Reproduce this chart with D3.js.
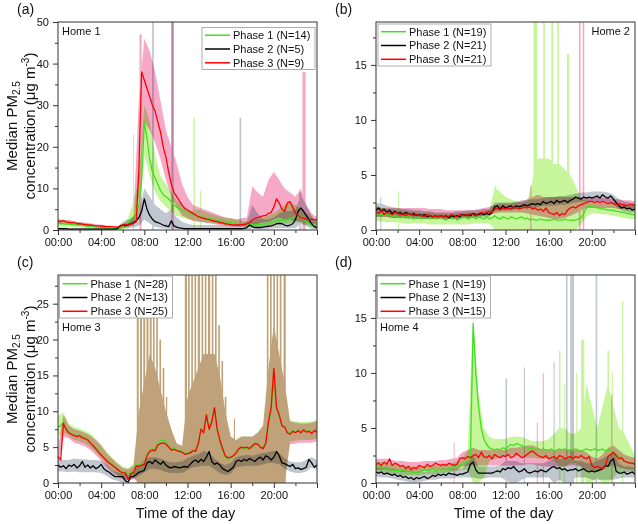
<!DOCTYPE html>
<html><head><meta charset="utf-8">
<script src="https://cdn.jsdelivr.net/npm/d3@7"></script>
<style>body{margin:0;background:#fff}svg text{font-family:"Liberation Sans",Arial,sans-serif}</style>
</head><body><svg id="chart" width="638" height="524"></svg>
<script>
// ---------- DATA ----------
const phases = ["Phase 1","Phase 2","Phase 3"];
const xTickLabels = ["00:00","04:00","08:00","12:00","16:00","20:00"];
const fineHours = d3.range(97).map(i => i / 4);   // 15-min medians
const coarseHours = d3.range(49).map(i => i / 2); // 30-min bands

// Home 1
const nA = [14,5,9];
const aP1 = [1.6,1.5,1.5,1.4,1.4,1.3,1.3,1.2,1.2, 1.1,1.0,0.9,0.9,0.8,0.7,0.7,0.6, 0.6,0.5,0.5,0.4,0.4,0.4,0.4,0.6, 1.0,1.8,2.6,3.2,4.0,6.0,12,26, 22,17,14,12.5,11,9.5,8.5,8, 7.5,6.8,6,5.5,5,4.8,4.5,4.3, 4,3.8,3.5,3.3,3.1,3,2.8,2.7, 2.6,2.5,2.4,2.2,2.1,2,1.9,1.8, 1.7,1.6,1.5,1.4,1.3,1.2,1.2,1.2, 1.2,1.3,1.3,1.4,1.5,1.6,1.8,2, 2.2,2.4,2.5,2.3,2.4,2.8,3,3.2, 3,3.2,2.5,2,1.6,1.2,1,0.9];
const aP2 = [0.3,0.3,0.3,0.3,0.2,0.2,0.2,0.2,0.2, 0.2,0.2,0.2,0.2,0.2,0.2,0.2,0.2, 0.2,0.2,0.2,0.2,0.2,0.3,1.0,1.2, 1.0,1.3,1.5,1.8,2.2,3,4.5,7.5, 5,3.5,2.6,2,1.8,1.5,1.2,1, 0.8,2.2,1,0.7,0.5,0.4,0.3,0.3, 0.3,0.3,0.3,0.3,0.3,0.3,0.3,0.3, 0.3,0.3,0.3,0.3,0.3,0.3,0.3,0.3, 0.3,0.3,0.3,0.3,0.4,0.6,1.2,0.8, 0.6,0.6,0.6,0.7,0.8,0.9,1.0,1.2, 1.5,1.6,1.5,1.2,1,1.2,1.5,2.5, 4.5,5.3,4.5,3.5,2.5,1.5,0.8,0.5];
const aP3 = [2.2,2.0,2.3,1.9,1.8,1.7,1.8,1.5,1.5, 1.4,1.3,1.2,1.2,1.1,1.0,1.0,0.9, 0.9,0.8,0.8,0.8,0.7,0.7,0.8,1.2, 1.3,1.2,1.4,1.6,2.0,15,38,36, 34,32,30,28.5,26,23.5,20,17.5, 14,11,9,8,7,6,5.2,4.8, 4.4,4,3.6,3.2,3,2.8,2.6,2.5, 2.3,2.1,2,1.8,1.7,1.5,1.4,1.3, 1.2,1.2,1.2,1.3,1.3,1.5,1.8,2.4, 2.8,3.0,3.2,3.4,3.5,4.0,4.2,5.5, 7.5,6.5,5,4.5,6.5,6.8,5.5,4, 3.5,3,2.8,2.6,2.5,2.6,2.5,2.4];
const aP1hi = [2.6,2.4,2.2,2.0,1.8,1.6,1.4, 1.2,1.0,0.9,0.8,0.8,1.0,3, 7,12,30,26,18,13,11, 9,7,6,5,4.5,5,4.5, 4,3.6,3.2,3,2.8,2.5,2.2, 2,2.2,2.5,3,3.5,4,5, 6,6.5,6,5,4,3,2];
const aP1lo = [0.9,0.8,0.8,0.7,0.6,0.5,0.4, 0.3,0.3,0.2,0.2,0.2,0.2,0.5, 1.5,3,18,13,9,7,5.5, 4.5,3.5,3,2.6,2.3,2.1,1.9, 1.7,1.6,1.4,1.2,1.1,1.0,0.9, 0.8,0.8,0.8,0.9,1.0,1.2,1.4, 1.5,1.6,1.8,1.8,1.2,0.8,0.5];
const aP2hi = [0.6,0.6,0.5,0.5,0.5,0.5,0.5, 0.5,0.5,0.5,0.5,0.6,2,2.5, 3,5,10,8,6,5,4, 5,3,2,1.5,1.2,1.2,1.2, 1.2,1.2,1.2,1.2,1.2,1.2,1.5, 2,6,4,2.5,2.5,3,4, 4.5,4.5,5,8.5,6,3.5,1.5];
const aP2lo = [0.1,0.1,0.1,0.1,0.1,0.1,0.1, 0.1,0.1,0.1,0.1,0.1,0.5,0.5, 0.6,1,2.5,1.5,0.8,0.5,0.3, 0.3,0.2,0.2,0.2,0.2,0.2,0.2, 0.1,0.1,0.1,0.1,0.1,0.1,0.1, 0.1,0.3,0.2,0.2,0.3,0.4,0.5, 0.5,0.4,0.5,1.5,1,0.3,0.1];
const aP3hi = [2.6,2.4,2.4,2.1,1.9,1.8,1.6, 1.4,1.3,1.1,1.0,0.9,1.5,1.8, 3,32,46,43,38,31,24, 20,16,11,8,6,5.5,5, 4.5,4,3.5,3,2.8,2.6,2.8, 3,10.5,9,8,12,14,12, 10,9,8,10,6,4,3];
const aP3lo = [1.7,1.6,1.5,1.3,1.2,1.1,1.0, 0.9,0.8,0.7,0.7,0.6,0.9,1.0, 1,8,26,24,21,17,12, 8,5.5,3.5,2.8,2.2,2,1.8, 1.6,1.4,1.2,1,0.9,0.8,0.8, 0.9,1.2,1.5,1.8,2,2.5,3, 2.5,2.5,2.2,2,1.8,1.5,1.5];
const aS1 = [[6.95,7.05,23],[12.55,12.68,27],[13.15,13.25,9.5]];
const aS2 = [[8.72,8.88,50],[10.5,10.72,50],[16.82,16.98,27],[22.35,22.55,9]];
const aS3 = [[7.55,7.75,47],[10.5,10.72,50],[22.65,22.95,38]];

// Home 2
const nB = [19,21,21];
const bP1 = [1.5,1.4,1.5,1.3,1.4,1.4,1.2,1.3,1.2, 1.1,1.2,1.3,1.1,1.2,1.0,1.2,1.1, 1.0,1.1,1.2,1.0,1.1,1.0,1.2,1.1, 1.0,0.9,1.1,1.0,1.2,0.9,1.0,1.1, 1.2,1.0,1.1,1.3,1.0,1.2,1.1,1.0, 1.2,1.0,1.1,1.3,1.1,1.0,1.2,1.1, 1.0,1.2,1.1,1.0,1.1,1.2,1.0,1.1, 0.9,1.0,0.9,0.9,1.0,0.9,0.9,0.9, 0.9,1.0,0.9,0.9,0.9,1.0,0.9,0.9, 0.9,0.9,1.0,1.1,1.5,2.0,2.2,2.1, 2.1,2.0,2.0,1.9,1.9,1.8,1.8,1.8, 1.7,1.7,1.6,1.6,1.5,1.5,1.4,1.4];
const bP2 = [1.8,2.0,1.7,1.9,1.6,1.8,1.5,1.7,1.5, 1.6,1.4,1.6,1.5,1.4,1.5,1.3,1.4, 1.3,1.4,1.2,1.3,1.2,1.3,1.2,1.3, 1.2,1.3,1.1,1.3,1.2,1.3,1.2,1.4, 1.3,1.4,1.3,1.5,1.4,1.4,1.5,1.4, 1.5,1.4,1.6,2.1,2.2,1.9,2.2,2.0, 2.1,2.2,2.0,2.2,2.1,2.2,2.3,2.2, 2.3,2.4,2.3,2.4,2.3,2.6,2.4,2.5, 2.6,2.4,2.7,2.5,2.6,2.7,2.5,2.7, 2.8,3.0,2.9,2.8,3.0,2.9,3.0,2.9, 3.0,3.1,2.9,3.2,3.0,2.9,3.1,2.8, 2.5,2.2,2.0,2.1,1.9,2.0,1.8,1.9];
const bP3 = [1.6,1.5,1.8,1.4,1.6,1.5,1.4,1.6,1.5, 1.4,1.5,1.3,1.5,1.4,1.3,1.4,1.3, 1.3,1.2,1.4,1.3,1.2,1.3,1.2,1.3, 1.2,1.3,1.2,1.4,1.3,1.2,1.4,1.3, 1.4,1.3,1.5,1.4,1.3,1.5,1.6,1.5, 1.6,1.7,1.6,1.9,2.0,1.8,2.0,1.9, 2.0,1.9,2.1,2.0,1.9,2.0,2.1,2.0, 2.1,1.9,2.0,1.8,1.9,1.7,2.0,1.6, 1.5,1.4,1.6,1.3,1.5,1.4,1.8,2.0, 2.1,2.0,2.2,2.3,2.4,2.5,2.6,2.6, 2.5,2.6,2.5,2.6,2.5,2.4,2.5,2.4, 2.3,2.4,2.3,2.3,2.2,2.3,2.3,2.2];
const bP1hi = [2.2,2.0,1.9,1.9,1.8,1.8,1.7, 1.7,1.6,1.6,1.6,1.5,1.5,1.5, 1.5,1.5,1.6,1.6,1.6,1.6,1.7, 1.8,3.8,3.5,3.0,2.8,2.6,2.5, 2.6,4.5,6.5,6.5,6.5,6,6, 5.5,5,4,2.8,2.7,2.6,2.5, 2.5,2.4,2.4,2.3,2.3,2.2,2.2];
const bP1lo = [0.8,0.8,0.7,0.7,0.7,0.6,0.6, 0.6,0.6,0.6,0.5,0.5,0.5,0.5, 0.5,0.5,0.5,0.5,0.6,0.6,0.6, 0.6,0.1,0,0,0,0,0, 0,0,0,0,0,0,0, 0,0,0,0.5,1.2,1.5,1.5, 1.4,1.4,1.3,1.2,1.1,1.0,1.0];
const bP2hi = [2.4,2.4,2.2,2.1,2.0,1.9,1.9, 1.8,1.8,1.7,1.7,1.6,1.6,1.6, 1.6,1.7,1.7,1.8,1.8,1.8,1.9, 1.9,2.5,2.5,2.5,2.5,2.6,2.7, 2.7,2.8,2.8,2.9,3.0,3.0,3.1, 3.1,3.2,3.3,3.4,3.4,3.5,3.5, 3.5,3.4,3.2,2.8,2.6,2.5,2.4];
const bP2lo = [1.2,1.2,1.2,1.1,1.1,1.1,1.0, 1.0,1.0,1.0,1.0,1.0,1.0,1.0, 1.0,1.0,1.1,1.1,1.1,1.2,1.2, 1.2,1.7,1.8,1.8,1.8,1.9,1.9, 2.0,2.0,2.1,2.2,2.2,2.2,2.3, 2.3,2.4,2.5,2.6,2.6,2.6,2.6, 2.6,2.5,2.3,1.9,1.7,1.6,1.6];
const bP3hi = [2.1,2.0,2.0,2.0,2.0,2.0,2.0, 2.0,2.0,2.0,1.9,1.9,1.9,1.8, 1.8,1.8,1.8,1.8,1.8,1.9,2.0, 2.1,2.3,2.4,2.4,2.4,2.5,2.6, 2.8,3.0,3.2,3.0,3.0,3.0,3.0, 3.0,3.0,3.0,3.0,3.0,3.0,3.0, 2.9,2.9,2.8,2.8,2.7,2.7,2.6];
const bP3lo = [1.2,1.2,1.2,1.1,1.1,1.1,1.1, 1.1,1.0,1.0,1.0,1.0,1.0,1.0, 1.0,1.0,1.1,1.1,1.1,1.2,1.3, 1.4,1.5,1.6,1.6,1.6,1.6,1.6, 1.5,1.4,1.3,1.2,1.1,1.0,1.0, 1.1,1.3,1.5,1.8,2.0,2.0,2.0, 2.0,2.0,2.0,1.9,1.9,1.9,1.8];
const bS1 = [[2.05,2.15,3.5],[11.0,11.15,4],[14.6,14.95,19],[15.5,15.65,19],[16.25,16.4,19],[16.8,16.95,19],[17.7,17.9,16]];
const bS2 = [[0.4,0.5,3]];
const bS3 = [[14.3,14.4,4],[18.8,18.95,19],[19.15,19.3,19]];

// Home 3
const nC = [28,13,25];
const cP1 = [7.8,8.0,8.5,7.6,7.1, 6.9,6.7,6.6,6.7, 6.4,6.3,6.1,5.7, 5.3,4.9,4.4,4.0, 3.6,3.2,2.9,2.6, 2.3,2.0,1.7,1.5, 1.5,1.1,1.4,1.5, 2.6,2.5,2.7,2.8, 4.0,4.6,4.8,4.7, 5.6,5.9,6.0,5.8, 5.2,4.8,4.9,4.6, 4.5,4.4,4.1,4.2, 4.3,4.6,4.5,5.6, 7.6,7.1,9.6,7.6, 8.6,10.4,7.4,5.8, 4.5,3.6,3.3,3.4, 3.7,4.1,4.6,4.8, 4.7,4.8,4.6,5.0, 5.3,5.6,5.2,4.9, 5.6,8.4,10.2,14.8, 10.2,9.3,8.0,7.9, 7.1,6.9,7.3,7.1, 7.4,7.1,7.5,7.2, 7.3,7.0,7.4,7.5];
const cP2 = [2.5,2.2,2.4,2.0,2.5, 2.3,2.6,2.1,2.4, 3.0,2.2,2.5,2.1, 2.4,2.0,2.2,2.6, 2.0,1.7,1.5,1.2, 0.9,0.9,0.9,0.9, 0.3,0.1,0.9,0.9, 1.2,1.5,1.6,1.8, 2.8,3.0,2.7,3.2, 2.9,2.6,3.0,2.5, 2.2,2.1,2.3,2.2, 2.1,2.2,2.3,2.2, 2.6,3.0,3.2,2.9, 3.3,3.0,3.6,4.4, 3.0,2.6,2.8,2.5, 2.0,1.8,1.6,1.9, 2.2,3.0,3.2,3.0, 3.3,3.1,3.4,3.2, 3.0,3.4,3.6,3.2, 3.8,3.6,3.2,3.6, 4.4,3.8,2.8,2.7, 2.5,2.3,2.6,2.0, 2.1,1.9,2.0,2.2, 3.3,2.8,2.2,2.5];
const cP3 = [3.7,3.2,8.3,7.5,7.0, 6.8,6.6,6.5,6.6, 6.3,6.2,6.0,5.6, 5.2,4.8,4.3,3.9, 3.5,3.1,2.8,2.5, 2.2,1.9,1.6,1.4, 1.4,0.5,1.3,1.4, 2.4,2.3,2.5,2.6, 3.8,4.4,4.6,4.5, 5.3,5.5,5.6,5.4, 5.0,4.6,4.7,4.5, 4.4,4.3,4.0,4.1, 4.2,4.5,4.4,5.5, 7.5,7.0,9.5,7.5, 8.5,10.5,7.5,6.0, 4.8,3.8,3.5,3.6, 3.8,4.2,4.8,5.0, 4.9,5.0,4.8,5.2, 5.5,5.4,5.0,4.8, 5.5,8.5,10.5,16, 10.5,9.5,8.0,7.8, 7.0,6.8,7.2,7.0, 7.3,7.0,7.4,7.1, 7.2,6.9,7.3,7.1];
const cP1hi = [9.3,9.8,8.3,7.8,7.6,7.3,6.9, 6.2,5.4,4.4,3.6,2.9,2.3,2.1, 2.6,10,14,18,16,13,10, 7.5,5.5,5.2,12,14,16,18, 18,18,15,10,6.5,6,6.5, 6.5,6.5,7,8,16,22,18, 14,8.8,8.6,8.5,8.5,8.6,8.8];
const cP1lo = [6.5,7.0,6.6,6.0,5.8,5.5,5.0, 4.3,3.5,2.6,1.8,1.2,0.8,0.6, 0.8,0,0,0,0,0,0, 0,0,0,0,0,0,0, 0,0,0,0,0,0,0, 0,0,0,0,0,0,0, 0,5.8,5.9,6.0,6.0,6.0,6.2];
const cP2hi = [3.2,3.2,3.2,3.4,3.3,3.3,3.2, 3.2,3.1,2.6,1.8,1.5,1.3,1.3, 1.8,2.5,3.2,3.6,3.6,3.4,3.1, 2.9,2.9,3.0,3.5,3.8,4.0,4.5, 4.2,3.4,2.8,2.5,2.8,3.6,3.8, 3.9,3.8,4.0,4.2,4.3,4.5,4.2, 3.4,3.0,2.9,2.9,3.2,3.6,3.2];
const cP2lo = [1.6,1.6,1.5,1.6,1.5,1.5,1.5, 1.5,1.4,1.0,0.5,0.3,0,0.2, 0.6,1.0,1.5,2.0,2.0,1.8,1.5, 1.4,1.4,1.4,1.8,2.2,2.3,2.4, 2.4,1.9,1.4,1.1,1.3,2.2,2.3, 2.4,2.4,2.4,2.6,2.8,2.8,2.6, 2.0,1.6,1.4,1.4,1.6,2.2,1.8];
const cP3hi = [5,9.5,8.0,7.5,7.3,7.0,6.6, 6.0,5.2,4.2,3.4,2.7,2.1,1.9, 2.4,10,14,18,16,13,10, 7.5,5.5,5.2,12,14,16,18, 18,18,15,10,6.5,6,6.5, 6.5,6.5,7,8,16,22,18, 14,8.6,8.4,8.3,8.3,8.4,8.6];
const cP3lo = [2.5,6.5,6.2,5.6,5.4,5.1,4.6, 3.9,3.1,2.2,1.5,0.9,0.5,0.4, 0.6,0,0,0,0,0,0, 0,0,0,0,0,0,0, 0,0,0,0,0,0,0, 0,0,0,0,0,0,0, 0,5.4,5.5,5.6,5.6,5.6,5.8];
const cS13 = [[7.3,7.48,29],[7.6,7.78,29],[7.9,8.08,29],[8.2,8.38,29],[8.5,8.68,29],[8.8,8.95,27],[9.1,9.25,24],[9.4,9.55,20],[9.7,9.85,16],[10.0,10.12,12],
  [11.75,11.95,29],[12.05,12.2,29],[12.35,12.5,29],[12.65,12.8,29],[12.95,13.15,29],[13.3,13.45,29],[13.6,13.75,29],[13.9,14.1,29],[14.25,14.4,29],[14.55,14.7,29],[14.85,15.0,22],[15.15,15.3,17],[15.45,15.6,12],[16.3,16.4,9],
  [19.35,19.5,29],[19.65,19.8,29],[19.95,20.1,29],[20.25,20.4,29],[20.55,20.7,29],[20.9,21.1,29]];
const cS2 = [];

// Home 4
const nD = [19,13,15];
const dP1 = [1.5,1.4,1.5,1.3,1.2,1.3,1.2,1.1,1.2, 1.1,1.2,1.0,1.1,1.0,1.0,0.9,1.0, 1.1,1.2,1.1,1.2,1.3,1.1,1.2,1.2, 1.3,1.2,1.3,1.4,1.5,1.4,1.6,1.7, 1.8,1.9,2.2,14.5,10,7,5,4, 3.5,3.2,3.1,3.0,3.1,3.0,3.2,3.1, 3.3,3.5,3.4,3.6,3.5,3.4,3.3,3.2, 3.1,3.2,3.0,3.1,3.0,3.1,3.0,3.0, 3.1,2.9,3.0,3.1,3.0,3.1,3.0,3.0, 3.0,3.1,3.0,2.9,3.0,3.1,3.0,3.0, 3.1,3.0,3.0,3.1,2.9,3.0,3.0,2.8, 2.6,2.4,2.2,2.0,1.9,1.8,1.8,1.7];
const dP2 = [1.0,0.9,1.0,0.8,0.9,0.8,0.7,0.8,0.6, 0.7,0.5,0.6,0.4,0.5,0.3,0.5,0.4, 0.5,0.6,0.4,0.5,0.7,0.6,0.8,0.7, 0.8,0.7,0.9,0.8,0.8,0.7,0.8,0.8, 0.9,1.0,1.7,1.9,1.2,0.9,0.9,0.9, 0.9,0.9,0.9,1.0,1.1,1.0,1.3,1.2, 1.4,1.3,1.5,1.2,1.0,1.1,1.3,1.0, 0.9,1.0,1.1,1.0,1.2,1.1,1.0,1.2, 1.4,1.5,1.3,1.4,1.2,1.3,1.1,1.2, 1.2,1.3,1.1,1.2,1.3,1.1,1.0,1.1, 1.0,1.1,1.2,1.3,1.6,1.5,2.0,2.2, 1.1,0.9,0.9,1.0,0.8,0.9,1.0,0.8];
const dP3 = [1.7,1.8,1.6,1.9,1.7,2.2,1.6,1.8,1.7, 1.5,1.6,1.3,1.5,1.2,1.4,1.3,1.6, 1.5,1.4,1.7,1.5,1.6,1.8,1.7,1.6, 1.7,1.6,1.8,1.7,1.6,1.7,2.2,2.3, 2.2,2.4,2.3,2.5,2.6,2.3,2.8,2.4, 2.3,2.5,2.2,2.6,2.4,2.3,2.5,2.4, 2.6,2.3,2.4,2.7,2.5,2.3,2.4,2.6, 2.8,2.9,2.7,2.5,2.4,2.3,2.5,2.2, 2.3,2.4,2.2,2.5,2.4,2.2,2.3,2.4, 2.2,2.4,2.3,2.5,2.3,2.2,2.4,1.6, 1.4,1.5,1.4,1.3,1.6,2.4,2.6,2.8, 2.5,2.2,2.3,2.0,1.9,1.8,1.8,1.7];
const dP1hi = [2.0,1.9,1.8,1.7,1.7,1.6,1.6, 1.5,1.5,1.5,1.6,1.6,1.6,1.7, 1.8,2.0,2.2,3,15,8,5, 4.2,4,4,4,4.2,4.2,4.2, 4,3.8,3.8,3.8,4,4.5,5, 5,4.5,4.5,5,9,7,5, 7,9,7,5,4.5,3.5,2.5];
const dP1lo = [1.0,0.9,0.9,0.8,0.8,0.7,0.7, 0.7,0.7,0.8,0.8,0.8,0.9,0.9, 1.0,1.1,1.2,1.2,0,0,0.5, 2.0,2.2,2.3,2.4,2.5,2.5,2.4, 2.3,2.3,2.2,2.2,2.2,2.0,1.5, 1.5,1.8,1.8,1.5,0,0,0.5, 0,0,0.5,1.0,1.0,1.0,1.0];
const dP2hi = [1.5,1.4,1.4,1.3,1.2,1.2,1.1, 1.0,1.0,1.0,1.1,1.1,1.2,1.2, 1.3,1.3,1.3,2.0,2.5,1.5,1.5, 1.5,1.5,1.6,2.0,2.0,2.0,1.8, 1.8,1.8,1.8,1.8,2.0,2.2,2.2, 2.2,2.2,2.0,2.0,1.8,1.8,2.0, 2.2,2.5,2.8,1.8,1.5,1.5,1.4];
const dP2lo = [0.6,0.5,0.5,0.4,0.3,0.2,0.1, 0.1,0.1,0.2,0.3,0.3,0.4,0.4, 0.4,0.5,0.5,0.5,0.5,0.4,0.4, 0.5,0.5,0.5,0.3,0,0,0.3, 0.5,0.5,0.5,0.5,0.5,0,0.3, 0,0,0.5,0.5,0.5,0.3,0.3, 0.3,0.3,0.3,0.4,0.5,0.5,0.5];
const dP3hi = [2.2,2.2,2.2,2.1,2.0,2.0,1.9, 1.9,1.9,2.0,2.0,2.0,2.1,2.1, 2.2,2.3,2.8,3.0,3.2,3.0,3.0, 3.0,3.0,3.0,3.0,3.2,3.2,3.3, 3.4,3.4,3.2,3.0,3.0,3.0,3.0, 3.0,3.0,3.0,3.0,2.8,2.4,2.2, 2.6,3.2,3.4,3.0,2.6,2.4,2.3];
const dP3lo = [1.2,1.2,1.2,1.1,1.1,1.0,1.0, 1.0,1.0,1.1,1.1,1.2,1.2,1.2, 1.2,1.2,1.5,1.6,1.6,1.6,1.6, 1.6,1.6,1.6,1.6,1.6,1.6,1.6, 1.7,1.7,1.6,1.5,1.5,1.5,1.5, 1.5,1.6,1.6,1.5,1.2,1.0,1.0, 1.2,1.5,1.6,1.4,1.3,1.2,1.2];
const dS1 = [[16.95,17.1,12],[17.4,17.5,9],[18.55,18.65,10],[19.0,19.3,13],[21.45,21.6,12],[21.85,21.95,10],[22.8,22.92,16.5]];
const dS2 = [[12.0,12.15,9.5],[13.7,13.8,10.5],[16.45,16.55,11],[17.6,17.75,19],[18.0,18.35,19],[20.35,20.5,19]];
const dS3 = [[7.2,7.28,3.7],[14.9,15.0,5.5],[15.45,15.55,10],[21.8,21.9,8]];

// ---------- LAYOUT / STYLE ----------
const lineCol = ["#3fe01f","#000000","#ff0000"];
const bandCol = ["#c6f59c","#c0c7cf","#f6a9c7"];
const PW = 259, PH = 208;
const panels = [
  {lab:"(a)", home:"Home 1", left:58, top:22, ymax:50, yt:[0,10,20,30,40,50], ym:[5,15,25,35,45],
   med:[aP1,aP2,aP3], hi:[aP1hi,aP2hi,aP3hi], lo:[aP1lo,aP2lo,aP3lo], sp:[aS1,aS2,aS3], n:nA,
   leg:{x:202,y:27.5}, homeRight:false, homeY:35, ylab:true, xlab:false},
  {lab:"(b)", home:"Home 2", left:376, top:22, ymax:18.9, yt:[0,5,10,15], ym:[2.5,7.5,12.5,17.5],
   med:[bP1,bP2,bP3], hi:[bP1hi,bP2hi,bP3hi], lo:[bP1lo,bP2lo,bP3lo], sp:[bS1,bS2,bS3], n:nB,
   leg:{x:378,y:24}, homeRight:true, homeY:35, ylab:false, xlab:false},
  {lab:"(c)", home:"Home 3", left:58, top:275, ymax:29, yt:[0,5,10,15,20,25], ym:[2.5,7.5,12.5,17.5,22.5,27.5],
   med:[cP1,cP2,cP3], hi:[cP1hi,cP2hi,cP3hi], lo:[cP1lo,cP2lo,cP3lo], sp:[cS13,cS2,cS13], n:nC,
   leg:{x:59.5,y:276}, homeRight:false, homeY:331, ylab:true, xlab:true},
  {lab:"(d)", home:"Home 4", left:376, top:275, ymax:18.9, yt:[0,5,10,15], ym:[2.5,7.5,12.5,17.5],
   med:[dP1,dP2,dP3], hi:[dP1hi,dP2hi,dP3hi], lo:[dP1lo,dP2lo,dP3lo], sp:[dS1,dS2,dS3], n:nD,
   leg:{x:377.5,y:276}, homeRight:false, homeY:331, ylab:false, xlab:true}
];

const svg = d3.select("#chart");
const defs = svg.append("defs");

panels.forEach((p, pi) => {
  const x = d3.scaleLinear().domain([0,24]).range([p.left, p.left + PW]);
  const y = d3.scaleLinear().domain([0,p.ymax]).range([p.top + PH, p.top]);
  const cid = "clip" + pi;
  defs.append("clipPath").attr("id", cid).append("rect")
    .attr("x", p.left).attr("y", p.top).attr("width", PW).attr("height", PH);
  const plot = svg.append("g").attr("clip-path", `url(#${cid})`);

  const area = d3.area().x((d,i) => x(coarseHours[i])).y0(d => y(d[0])).y1(d => y(d[1]));
  for (let k = 0; k < 3; k++) {
    const bg = plot.append("g").style("mix-blend-mode","multiply");
    bg.append("path").datum(p.lo[k].map((v,i) => [v, p.hi[k][i]]))
      .attr("d", area).attr("fill", bandCol[k]);
    bg.selectAll("rect").data(p.sp[k]).join("rect")
      .attr("x", d => x(d[0])).attr("width", d => x(d[1]) - x(d[0]))
      .attr("y", d => y(d[2])).attr("height", d => y(0) - y(d[2]))
      .attr("fill", bandCol[k]);
  }
  const line = d3.line().x((d,i) => x(fineHours[i])).y(d => y(d));
  for (let k = 0; k < 3; k++) {
    plot.append("path").datum(p.med[k]).attr("d", line)
      .attr("fill","none").attr("stroke", lineCol[k]).attr("stroke-width", 1.3)
      .attr("stroke-linejoin","round");
  }

  svg.append("rect").attr("x", p.left).attr("y", p.top).attr("width", PW).attr("height", PH)
    .attr("fill","none").attr("stroke","#333").attr("stroke-width",1);

  const styleAxis = g => {
    g.select(".domain").remove();
    g.selectAll("line").attr("stroke","#333");
    g.selectAll("text").attr("font-family","'Liberation Sans',Arial,sans-serif").attr("font-size",11).attr("fill","#111");
  };
  svg.append("g").attr("transform",`translate(0,${p.top+PH})`)
    .call(d3.axisBottom(x).tickValues([0,4,8,12,16,20,24]).tickSize(5).tickPadding(3)
      .tickFormat(h => h < 24 ? xTickLabels[h/4] : ""))
    .call(styleAxis);
  svg.append("g").attr("transform",`translate(0,${p.top+PH})`)
    .call(d3.axisBottom(x).tickValues([2,6,10,14,18,22]).tickSize(3).tickFormat(""))
    .call(styleAxis);
  svg.append("g").attr("transform",`translate(${p.left},0)`)
    .call(d3.axisLeft(y).tickValues(p.yt).tickSize(5).tickPadding(4).tickFormat(d3.format("d")))
    .call(styleAxis);
  svg.append("g").attr("transform",`translate(${p.left},0)`)
    .call(d3.axisLeft(y).tickValues(p.ym).tickSize(3).tickFormat(""))
    .call(styleAxis);

  svg.append("text").attr("x", p.left - 41).attr("y", p.top - 8)
    .attr("font-size",14).attr("fill","#111").text(p.lab);

  svg.append("text").attr("x", p.homeRight ? p.left + PW - 5 : p.left + 4).attr("y", p.homeY)
    .attr("text-anchor", p.homeRight ? "end" : "start")
    .attr("font-size",11).attr("fill","#111").text(p.home);

  const lg = svg.append("g");
  lg.append("rect").attr("x", p.leg.x).attr("y", p.leg.y).attr("width",113).attr("height",42)
    .attr("fill","#fff").attr("stroke","#9a9a9a").attr("stroke-width",0.8);
  phases.forEach((ph, k) => {
    const yy = p.leg.y + 7.7 + 13.8 * k;
    lg.append("line").attr("x1", p.leg.x + 3).attr("x2", p.leg.x + 28).attr("y1", yy).attr("y2", yy)
      .attr("stroke", lineCol[k]).attr("stroke-width", 1.5);
    lg.append("text").attr("x", p.leg.x + 31).attr("y", yy).attr("dy","0.36em")
      .attr("font-size",11).attr("fill","#111").text(`${ph} (N=${p.n[k]})`);
  });

  if (p.ylab) {
    const cy = p.top + PH/2;
    const t1 = svg.append("text").attr("transform",`translate(16.5,${cy}) rotate(-90)`)
      .attr("text-anchor","middle").attr("font-size",15).attr("fill","#111");
    t1.append("tspan").text("Median PM");
    t1.append("tspan").attr("font-size",10).attr("dy",3).text("2.5");
    const t2 = svg.append("text").attr("transform",`translate(34.5,${cy}) rotate(-90)`)
      .attr("text-anchor","middle").attr("font-size",15).attr("fill","#111");
    t2.append("tspan").text("concentration (\u03bcg m");
    t2.append("tspan").attr("font-size",10).attr("dy",-6).text("-3");
    t2.append("tspan").attr("dy",6).text(")");
  }
  if (p.xlab) {
    svg.append("text").attr("x", p.left + PW/2 - 2).attr("y", 518)
      .attr("text-anchor","middle").attr("font-size",14.5).attr("fill","#111").text("Time of the day");
  }
});
</script></body></html>
